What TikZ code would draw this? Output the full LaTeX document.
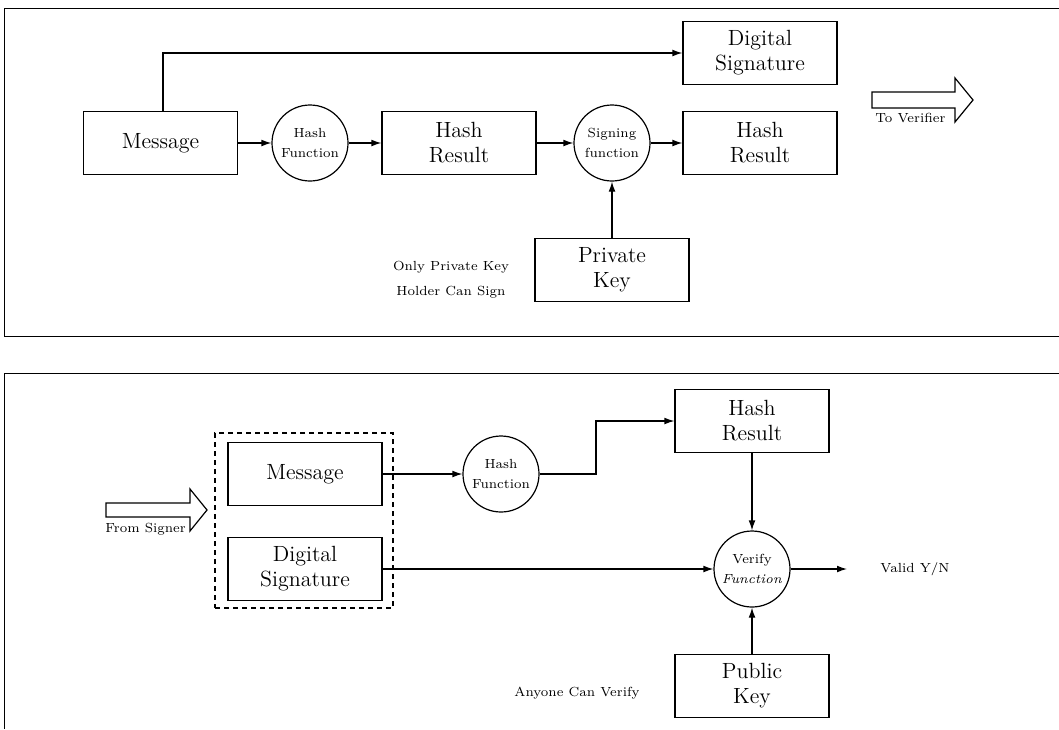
\documentclass[tikz,border=0pt]{standalone}
\usetikzlibrary{arrows.meta}
\begin{document}
\begin{tikzpicture}[x=0.5pt,y=-0.5pt,
  box/.style={draw, line width=0.6pt, minimum width=77pt, minimum height=31.5pt, inner sep=0pt, align=center, font=\fontsize{11}{12.5}\selectfont},
  fn/.style={draw, circle, line width=0.6pt, minimum size=38pt, inner sep=0pt, align=center, font=\fontsize{6.6}{10}\selectfont},
  note/.style={inner sep=0pt, align=center, font=\fontsize{6.6}{12.5}\selectfont},
  arr/.style={line width=0.6pt, -{Latex[length=5pt,width=3.4pt]}},
  frame/.style={line width=0.5pt},
  hollow/.style={draw, line width=0.6pt, fill=white, line join=miter}]
\useasboundingbox (0,0) rectangle (1059,729);
% frames
\draw[frame] (1059,8) -- (4,8) -- (4,336) -- (1059,336);
\draw[frame] (1059,373) -- (4,373) -- (4,729);
% ---------- top panel ----------
\node[box] (msg1) at (160.5,143) {Message};
\node[box] (dsig1) at (760,53) {Digital\\Signature};
\node[fn] (hash1) at (310,143) {Hash\\Function};
\node[box] (hr1) at (459,143) {Hash\\Result};
\node[fn] (sign) at (612,143) {Signing\\function};
\node[box] (hr2) at (760,143) {Hash\\Result};
\node[box] (pk) at (612,270) {Private\\Key};
\node[note] (only) at (451,280) {Only Private Key\\Holder Can Sign};
\draw[arr] ([xshift=1.25pt]msg1.north) |- (dsig1.west);
\draw[arr] (msg1.east) -- (hash1.west);
\draw[arr] (hash1.east) -- (hr1.west);
\draw[arr] (hr1.east) -- (sign.west);
\draw[arr] (sign.east) -- (hr2.west);
\draw[arr] (pk.north) -- (sign.south);
\draw[hollow] (872,92) -- (955,92) -- (955,78) -- (973,100) -- (955,122) -- (955,108) -- (872,108) -- cycle;
\node[note, anchor=west] (tover) at (875,118) {To Verifier};
% ---------- bottom panel ----------
\node[draw, dashed, dash pattern=on 2.5pt off 2pt, line width=0.6pt, minimum width=89pt, minimum height=87.5pt, inner sep=0pt] (grp) at (304,520.5) {};
\node[box] (msg2) at (305,474) {Message};
\node[box] (ds2) at (305,569) {Digital\\Signature};
\node[fn] (hash2) at (501,474) {Hash\\Function};
\node[box] (hr3) at (752,421) {Hash\\Result};
\node[fn] (vf) at (752,569) {Verify\\\textit{Function}};
\node[box] (pk2) at (752,686) {Public\\Key};
\coordinate (bend) at (596,450);
\coordinate (vout) at (847,569);
\node[note, anchor=west] (valid) at (880,569) {Valid Y/N};
\node[note] (anyone) at (577,693) {Anyone Can Verify};
\draw[arr] (msg2.east) -- (hash2.west);
\draw[arr] (hash2.east) -- (hash2.east -| bend) |- (hr3.west);
\draw[arr] (ds2.east) -- (vf.west);
\draw[arr] (hr3.south) -- (vf.north);
\draw[arr] (pk2.north) -- (vf.south);
\draw[arr] (vf.east) -- (vout);
\draw[hollow] (106,503) -- (190,503) -- (190,489) -- (207,510) -- (190,531) -- (190,517) -- (106,517) -- cycle;
\node[note, anchor=west] (fsign) at (105,529) {From Signer};
\end{tikzpicture}
\end{document}
